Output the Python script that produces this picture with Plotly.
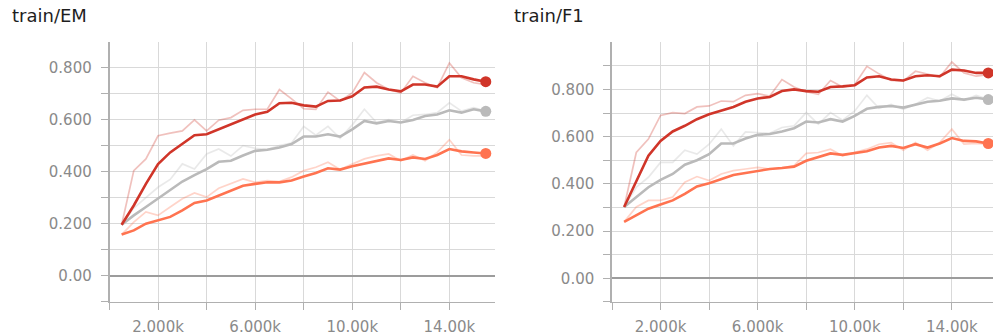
import plotly.graph_objects as go

# Training steps logged for every run
steps = [500, 1000, 1500, 2000, 2500, 3000, 3500, 4000, 4500, 5000, 5500,
         6000, 6500, 7000, 7500, 8000, 8500, 9000, 9500, 10000, 10500,
         11000, 11500, 12000, 12500, 13000, 13500, 14000, 14500, 15000, 15500]

# train/EM — raw and smoothed values per run
em_red_raw = [0.196, 0.404, 0.449, 0.538, 0.548, 0.557, 0.599, 0.557, 0.598, 0.608, 0.636,
              0.640, 0.640, 0.716, 0.680, 0.642, 0.640, 0.706, 0.672, 0.703, 0.781,
              0.742, 0.716, 0.703, 0.767, 0.742, 0.723, 0.818, 0.761, 0.742, 0.735]
em_red_smooth = [0.196, 0.270, 0.353, 0.429, 0.474, 0.506, 0.540, 0.544, 0.563, 0.579, 0.600,
                 0.620, 0.630, 0.663, 0.665, 0.655, 0.650, 0.672, 0.674, 0.690, 0.724,
                 0.727, 0.716, 0.709, 0.735, 0.735, 0.727, 0.767, 0.767, 0.755, 0.746]
em_gray_raw = [0.196, 0.260, 0.300, 0.340, 0.370, 0.430, 0.410, 0.468, 0.487, 0.460, 0.500,
               0.490, 0.485, 0.500, 0.510, 0.574, 0.540, 0.574, 0.528, 0.580, 0.640,
               0.589, 0.600, 0.589, 0.617, 0.620, 0.627, 0.665, 0.633, 0.646, 0.633]
em_gray_smooth = [0.196, 0.232, 0.264, 0.296, 0.327, 0.362, 0.387, 0.410, 0.438, 0.442, 0.462,
                  0.480, 0.484, 0.493, 0.506, 0.535, 0.535, 0.544, 0.535, 0.563, 0.595,
                  0.586, 0.595, 0.589, 0.599, 0.614, 0.620, 0.636, 0.627, 0.640, 0.632]
em_orange_raw = [0.158, 0.206, 0.245, 0.232, 0.264, 0.296, 0.318, 0.302, 0.336, 0.353, 0.372,
                 0.359, 0.366, 0.362, 0.379, 0.404, 0.417, 0.436, 0.408, 0.429, 0.449,
                 0.461, 0.468, 0.442, 0.464, 0.442, 0.474, 0.523, 0.464, 0.461, 0.461]
em_orange_smooth = [0.158, 0.174, 0.200, 0.213, 0.226, 0.251, 0.280, 0.289, 0.308, 0.327, 0.346,
                    0.353, 0.359, 0.359, 0.366, 0.381, 0.395, 0.413, 0.408, 0.421, 0.431,
                    0.442, 0.451, 0.445, 0.455, 0.449, 0.464, 0.487, 0.478, 0.474, 0.470]

# train/F1 — raw and smoothed values per run
f1_red_raw = [0.302, 0.533, 0.590, 0.690, 0.702, 0.698, 0.726, 0.730, 0.751, 0.748, 0.775,
              0.782, 0.772, 0.842, 0.810, 0.790, 0.779, 0.838, 0.810, 0.821, 0.898,
              0.866, 0.838, 0.835, 0.877, 0.866, 0.852, 0.916, 0.870, 0.856, 0.863]
f1_red_smooth = [0.302, 0.414, 0.519, 0.582, 0.622, 0.646, 0.674, 0.695, 0.712, 0.726, 0.748,
                 0.762, 0.768, 0.793, 0.800, 0.793, 0.790, 0.810, 0.813, 0.818, 0.851,
                 0.856, 0.842, 0.838, 0.856, 0.860, 0.856, 0.884, 0.880, 0.870, 0.870]
f1_gray_raw = [0.302, 0.386, 0.428, 0.491, 0.491, 0.543, 0.526, 0.568, 0.632, 0.561, 0.620,
               0.618, 0.614, 0.639, 0.646, 0.702, 0.653, 0.702, 0.670, 0.709, 0.775,
               0.720, 0.737, 0.716, 0.737, 0.765, 0.751, 0.780, 0.754, 0.775, 0.758]
f1_gray_smooth = [0.302, 0.344, 0.386, 0.417, 0.442, 0.481, 0.500, 0.526, 0.571, 0.571, 0.592,
                  0.608, 0.611, 0.622, 0.636, 0.664, 0.660, 0.674, 0.664, 0.688, 0.718,
                  0.726, 0.730, 0.723, 0.734, 0.748, 0.752, 0.762, 0.757, 0.765, 0.757]
f1_orange_raw = [0.239, 0.302, 0.330, 0.330, 0.344, 0.407, 0.431, 0.414, 0.442, 0.456, 0.463,
                 0.470, 0.463, 0.467, 0.477, 0.529, 0.533, 0.547, 0.519, 0.533, 0.547,
                 0.568, 0.575, 0.543, 0.575, 0.543, 0.575, 0.632, 0.568, 0.571, 0.568]
f1_orange_smooth = [0.239, 0.267, 0.295, 0.313, 0.330, 0.358, 0.389, 0.403, 0.421, 0.438, 0.446,
                    0.456, 0.463, 0.467, 0.473, 0.498, 0.515, 0.529, 0.523, 0.529, 0.538,
                    0.554, 0.561, 0.552, 0.568, 0.554, 0.571, 0.594, 0.582, 0.580, 0.571]

x_tick_vals = [2000, 6000, 10000, 14000]
x_tick_text = ["2.000k", "6.000k", "10.00k", "14.00k"]
x_grid_vals = [0, 2000, 4000, 6000, 8000, 10000, 12000, 14000, 16000]
y_tick_vals = [0.0, 0.2, 0.4, 0.6, 0.8]
y_tick_text = ["0.00", "0.200", "0.400", "0.600", "0.800"]
y_grid_vals = [-0.1, 0.1, 0.3, 0.5, 0.7, 0.9]

RED = "#d03529"
GRAY = "#bababa"
ORANGE = "#ff7350"

panels = [
    ("x", "y", [(em_gray_raw, em_gray_smooth, GRAY),
                (em_orange_raw, em_orange_smooth, ORANGE),
                (em_red_raw, em_red_smooth, RED)]),
    ("x2", "y2", [(f1_gray_raw, f1_gray_smooth, GRAY),
                  (f1_orange_raw, f1_orange_smooth, ORANGE),
                  (f1_red_raw, f1_red_smooth, RED)]),
]

fig = go.Figure()
for xa, ya, runs in panels:
    # faint raw curves underneath
    for raw, _, color in runs:
        fig.add_trace(go.Scatter(x=steps, y=raw, mode="lines", xaxis=xa, yaxis=ya,
                                 line=dict(color=color, width=1.7), opacity=0.3,
                                 hoverinfo="skip", showlegend=False))
    # smoothed curves on top
    for _, smooth, color in runs:
        fig.add_trace(go.Scatter(x=steps, y=smooth, mode="lines", xaxis=xa, yaxis=ya,
                                 line=dict(color=color, width=2.6),
                                 showlegend=False))
    # dot at the latest smoothed value
    for _, smooth, color in runs:
        fig.add_trace(go.Scatter(x=steps[-1:], y=smooth[-1:], mode="markers",
                                 xaxis=xa, yaxis=ya,
                                 marker=dict(color=color, size=11),
                                 showlegend=False))

W, H = 993, 336
tick_font = dict(family="DejaVu Sans", size=15, color="#8a8a8a")
grid_color = "#d9d9d9"
axis_color = "#b0b0b0"


def x_axis(dom, rng, anchor):
    return dict(domain=dom, range=rng, anchor=anchor,
                tickmode="array", tickvals=x_tick_vals, ticktext=x_tick_text,
                ticks="outside", ticklen=7, tickcolor=axis_color, tickwidth=1,
                showgrid=True, gridcolor=grid_color, gridwidth=1,
                minor=dict(tickmode="array", tickvals=x_grid_vals, ticks="outside",
                           ticklen=7, tickcolor=axis_color, showgrid=True,
                           gridcolor=grid_color, gridwidth=1),
                showline=True, linecolor=axis_color, linewidth=1,
                zeroline=False, tickfont=tick_font, ticklabelstandoff=4,
                fixedrange=True)


def y_axis(rng, anchor):
    return dict(domain=[1 - 304 / H, 1 - 42.7 / H], range=rng, anchor=anchor,
                tickmode="array", tickvals=y_tick_vals, ticktext=y_tick_text,
                ticks="outside", ticklen=7, tickcolor=axis_color, tickwidth=1,
                showgrid=True, gridcolor=grid_color, gridwidth=1,
                minor=dict(tickmode="array", tickvals=y_grid_vals, ticks="outside",
                           ticklen=7, tickcolor=axis_color, showgrid=True,
                           gridcolor=grid_color, gridwidth=1),
                showline=True, linecolor=axis_color, linewidth=1.5,
                zeroline=True, zerolinecolor="#9c9c9c", zerolinewidth=2,
                tickfont=tick_font, ticklabelstandoff=6, fixedrange=True)


fig.update_layout(
    width=W, height=H,
    margin=dict(l=0, r=0, t=0, b=0),
    paper_bgcolor="white", plot_bgcolor="white",
    xaxis=x_axis([109.5 / W, 495 / W], [0, 15880], "y"),
    yaxis=y_axis([-0.102, 0.897], "x"),
    xaxis2=x_axis([612 / W, 1.0], [0, 15695], "y2"),
    yaxis2=y_axis([-0.101, 0.999], "x2"),
    annotations=[
        dict(text="train/EM", x=10 / W, y=1 - 16 / H, xref="paper", yref="paper",
             xanchor="left", yanchor="middle", showarrow=False,
             font=dict(family="DejaVu Sans", size=18, color="#1e1e1e")),
        dict(text="train/F1", x=512 / W, y=1 - 16 / H, xref="paper", yref="paper",
             xanchor="left", yanchor="middle", showarrow=False,
             font=dict(family="DejaVu Sans", size=18, color="#1e1e1e")),
    ],
)

fig.write_html("out.html")
